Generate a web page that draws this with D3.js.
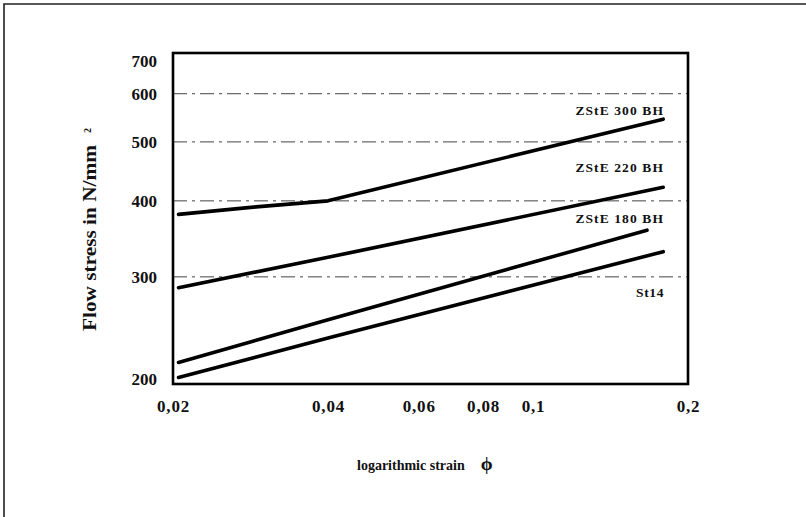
<!DOCTYPE html>
<html>
<head>
<meta charset="utf-8">
<script src="https://cdn.jsdelivr.net/npm/d3@7"></script>
<style>
  html, body { margin: 0; padding: 0; background: #fff; }
  svg { display: block; }
  text { font-family: "Liberation Serif", "DejaVu Serif", serif; fill: #111; }
</style>
</head>
<body>
<svg id="chart" width="806" height="517"></svg>
<script>
// Tick values on the two logarithmic axes
const strainTicks = [0.02, 0.04, 0.06, 0.08, 0.1, 0.2];
const strainTickLabels = ["0,02", "0,04", "0,06", "0,08", "0,1", "0,2"];
const stressTicks = [200, 300, 400, 500, 600, 700];
const stressGrid = [300, 400, 500, 600];

// Flow curves: strain (phi) and flow stress (N/mm²) per steel grade
const seriesNames = ["ZStE 300 BH", "ZStE 220 BH", "ZStE 180 BH", "St14"];
const strainZStE300 = [0.0205, 0.029, 0.04, 0.179];
const stressZStE300 = [380, 391, 400, 545];
const strainZStE220 = [0.0205, 0.04, 0.179];
const stressZStE220 = [288, 323, 421];
const strainZStE180 = [0.0205, 0.04, 0.1665];
const stressZStE180 = [217, 255, 358];
const strainSt14 = [0.0205, 0.04, 0.179];
const stressSt14 = [205, 238, 330];

const curves = [
  { name: seriesNames[0], x: strainZStE300, y: stressZStE300 },
  { name: seriesNames[1], x: strainZStE220, y: stressZStE220 },
  { name: seriesNames[2], x: strainZStE180, y: stressZStE180 },
  { name: seriesNames[3], x: strainSt14, y: stressSt14 }
];

const svg = d3.select("#chart");
const plot = { left: 173, right: 688, top: 53, bottom: 384 };

const x = d3.scaleLog().domain([0.02, 0.2]).range([plot.left, plot.right]);
const y = d3.scaleLog().domain([200, 700]).range([plot.bottom, plot.top]);

// Outer frame (top and left edges)
svg.append("path")
  .attr("d", "M4,517 L4,4 L806,4")
  .attr("fill", "none")
  .attr("stroke", "#222")
  .attr("stroke-width", 1.6);

// Dash-dot gridlines
svg.append("g")
  .selectAll("line")
  .data(stressGrid)
  .join("line")
  .attr("x1", plot.left)
  .attr("x2", plot.right)
  .attr("y1", d => y(d))
  .attr("y2", d => y(d))
  .attr("stroke", "#444")
  .attr("stroke-width", 1)
  .attr("stroke-dasharray", "14,5,3,5");

// Plot frame
svg.append("rect")
  .attr("x", plot.left)
  .attr("y", plot.top)
  .attr("width", plot.right - plot.left)
  .attr("height", plot.bottom - plot.top)
  .attr("fill", "none")
  .attr("stroke", "#000")
  .attr("stroke-width", 2.6);

// Flow curves
const line = d3.line()
  .x(d => x(d[0]))
  .y(d => y(d[1]));

svg.append("g")
  .selectAll("path")
  .data(curves)
  .join("path")
  .attr("d", c => line(c.x.map((v, i) => [v, c.y[i]])))
  .attr("fill", "none")
  .attr("stroke", "#000")
  .attr("stroke-width", 3.6)
  .attr("stroke-linecap", "round")
  .attr("stroke-linejoin", "round");

// Curve labels, right-aligned near the curve ends
const labelBaselines = [115, 172, 223, 297];
svg.append("g")
  .selectAll("text")
  .data(curves)
  .join("text")
  .attr("x", 664)
  .attr("y", (c, i) => labelBaselines[i])
  .attr("text-anchor", "end")
  .attr("font-size", 13.5)
  .attr("font-weight", "bold")
  .attr("letter-spacing", (c, i) => i === 3 ? 0.6 : 1.1)
  .text(c => c.name);

// Y axis tick labels (kept inside the frame height)
const yAxis = d3.axisLeft(y)
  .tickValues(stressTicks)
  .tickFormat(d3.format("d"))
  .tickSize(0)
  .tickPadding(16);

const gy = svg.append("g")
  .attr("transform", `translate(${plot.left},0)`)
  .call(yAxis);
gy.select(".domain").remove();
gy.selectAll(".tick text")
  .attr("font-family", "Liberation Serif, serif")
  .attr("font-size", 17)
  .attr("font-weight", "bold")
  .attr("fill", "#111")
  .attr("dy", d => {
    const py = y(d);
    const c = Math.min(Math.max(py, plot.top + 7), plot.bottom - 6);
    return (c - py + 6) + "px";
  });

// X axis tick labels
const xAxis = d3.axisBottom(x)
  .tickValues(strainTicks)
  .tickFormat((d, i) => strainTickLabels[i])
  .tickSize(0)
  .tickPadding(16);

const gx = svg.append("g")
  .attr("transform", `translate(0,${plot.bottom})`)
  .call(xAxis);
gx.select(".domain").remove();
gx.selectAll(".tick text")
  .attr("font-family", "Liberation Serif, serif")
  .attr("font-size", 17)
  .attr("font-weight", "bold")
  .attr("letter-spacing", 0.8)
  .attr("fill", "#111");

// Axis titles
const xt = svg.append("text")
  .attr("x", 357)
  .attr("y", 470)
  .attr("font-size", 14)
  .attr("font-weight", "bold");
xt.append("tspan").text("logarithmic strain");
xt.append("tspan").attr("dx", 16).attr("font-size", 19).text("ϕ");

const yt = svg.append("text")
  .attr("transform", "translate(96,331) rotate(-90)")
  .attr("font-size", 18.5)
  .attr("font-weight", "bold");
yt.append("tspan")
  .attr("textLength", 186)
  .attr("lengthAdjust", "spacingAndGlyphs")
  .text("Flow stress in N/mm");
yt.append("tspan").attr("dx", 12).attr("dy", -5).attr("font-size", 10).text("2");
</script>
</body>
</html>
